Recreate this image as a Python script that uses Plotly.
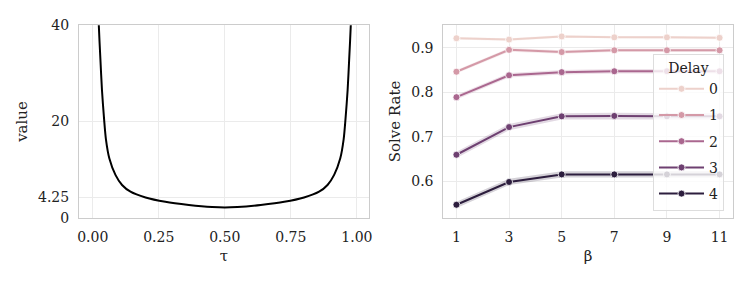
import numpy as np
import plotly.graph_objects as go

# ---------------- data ----------------
tau = [0.018, 0.023, 0.029, 0.035, 0.043, 0.050, 0.063, 0.086, 0.111, 0.143,
       0.200, 0.275, 0.364, 0.452, 0.500, 0.548, 0.636, 0.725, 0.800, 0.857,
       0.889, 0.914, 0.937, 0.950, 0.957, 0.965, 0.971, 0.977, 0.982]
value = [50.0, 40.0, 33.0, 26.5, 20.5, 16.3, 12.3, 8.9, 6.8, 5.4,
         4.2, 3.3, 2.65, 2.2, 2.1, 2.2, 2.65, 3.3, 4.2, 5.4,
         6.8, 8.9, 12.3, 16.3, 20.5, 26.5, 33.0, 40.0, 50.0]
left_yticks = [0, 4.25, 20, 40]
left_yticklabels = ["0", "4.25", "20", "40"]
left_xticks = [0.0, 0.25, 0.5, 0.75, 1.0]
left_xticklabels = ["0.00", "0.25", "0.50", "0.75", "1.00"]

beta = [1, 3, 5, 7, 9, 11]
delays = [0, 1, 2, 3, 4]
rate_d0 = [0.921, 0.918, 0.925, 0.923, 0.923, 0.922]
rate_d1 = [0.846, 0.895, 0.890, 0.894, 0.894, 0.894]
rate_d2 = [0.789, 0.838, 0.845, 0.847, 0.847, 0.847]
rate_d3 = [0.660, 0.722, 0.746, 0.747, 0.746, 0.746]
rate_d4 = [0.548, 0.599, 0.616, 0.616, 0.616, 0.616]
ci_half = [0.003, 0.004, 0.005, 0.007, 0.007]
right_yticks = [0.6, 0.7, 0.8, 0.9]

rates = [rate_d0, rate_d1, rate_d2, rate_d3, rate_d4]


# seaborn default "ch:" cubehelix colormap
def cubehelix(x, start=0.0, rot=0.4, gamma=1.0, hue=0.8):
    xg = x ** gamma
    a = hue * xg * (1 - xg) / 2
    phi = 2 * np.pi * (start / 3 + rot * x)
    r = xg + a * (-0.14861 * np.cos(phi) + 1.78277 * np.sin(phi))
    g = xg + a * (-0.29227 * np.cos(phi) - 0.90649 * np.sin(phi))
    b = xg + a * (1.97294 * np.cos(phi))
    return tuple(int(round(min(max(c, 0), 1) * 255)) for c in (r, g, b))


light, dark = 0.85, 0.15
colors = []
for d in delays:
    t = d / (len(delays) - 1)
    colors.append(cubehelix(light + (dark - light) * t))

FONT = "DejaVu Serif"
GRID = "#ebebeb"
SPINE = "#cccccc"
W, H = 753, 286
OFF = 8  # page body margin


def px_x(p):
    return (p - OFF) / W


def px_y(p):
    return 1 - (p - OFF) / H


fig = go.Figure()

fig.add_trace(go.Scatter(x=tau, y=value, mode="lines",
                         line=dict(color="black", width=2, shape="spline", smoothing=0.8),
                         showlegend=False, xaxis="x", yaxis="y"))

for d, r, ci, c in zip(delays, rates, ci_half, colors):
    upper = [v + ci for v in r]
    lower = [v - ci for v in r]
    fig.add_trace(go.Scatter(x=beta + beta[::-1], y=upper + lower[::-1],
                             fill="toself", mode="lines", line=dict(width=0),
                             fillcolor="rgba(%d,%d,%d,0.2)" % c,
                             hoverinfo="skip", showlegend=False,
                             xaxis="x2", yaxis="y2"))
for d, r, ci, c in zip(delays, rates, ci_half, colors):
    fig.add_trace(go.Scatter(x=beta, y=r, mode="lines+markers", name=str(d),
                             legendgroup=str(d),
                             line=dict(color="rgb(%d,%d,%d)" % c, width=2),
                             marker=dict(size=7, color="rgb(%d,%d,%d)" % c,
                                         line=dict(color="white", width=0.8)),
                             xaxis="x2", yaxis="y2"))

axis_common = dict(showgrid=True, gridcolor=GRID, gridwidth=1, zeroline=False,
                   showline=True, linecolor=SPINE, linewidth=1, mirror=True,
                   ticks="outside", ticklen=6, tickcolor="rgba(0,0,0,0)",
                   tickfont=dict(family=FONT, size=14, color="#222222"),
                   automargin=False)

ydom = [px_y(217.7), px_y(25.3)]

fig.update_layout(
    width=W, height=H,
    margin=dict(l=0, r=0, t=0, b=0),
    paper_bgcolor="white", plot_bgcolor="white",
    font=dict(family=FONT, size=14, color="#222222"),
    xaxis=dict(domain=[px_x(79), px_x(369)], range=[-0.052, 1.046],
               tickvals=left_xticks, ticktext=left_xticklabels,
               title=dict(text="τ", font=dict(family=FONT, size=15), standoff=6),
               anchor="y", **axis_common),
    yaxis=dict(domain=ydom, range=[0, 40],
               tickvals=left_yticks, ticktext=left_yticklabels,
               title=dict(text="value", font=dict(family=FONT, size=15), standoff=6),
               anchor="x", **axis_common),
    xaxis2=dict(domain=[px_x(443.3), px_x(732.7)], range=[0.5, 11.5],
                tickvals=beta,
                title=dict(text="β", font=dict(family=FONT, size=15), standoff=6),
                anchor="y2", **axis_common),
    yaxis2=dict(domain=ydom, range=[0.519, 0.950],
                tickvals=right_yticks, tickformat=".1f",
                title=dict(text="Solve Rate", font=dict(family=FONT, size=15), standoff=6),
                anchor="x2", **axis_common),
    legend=dict(x=px_x(653), y=px_y(54), xanchor="left", yanchor="top",
                bgcolor="rgba(255,255,255,0.8)", bordercolor="#dddddd", borderwidth=1,
                title=dict(text="Delay", side="top center", font=dict(family=FONT, size=14)),
                font=dict(family=FONT, size=14), tracegroupgap=5,
                itemwidth=45),
)

fig.write_html("out.html")
